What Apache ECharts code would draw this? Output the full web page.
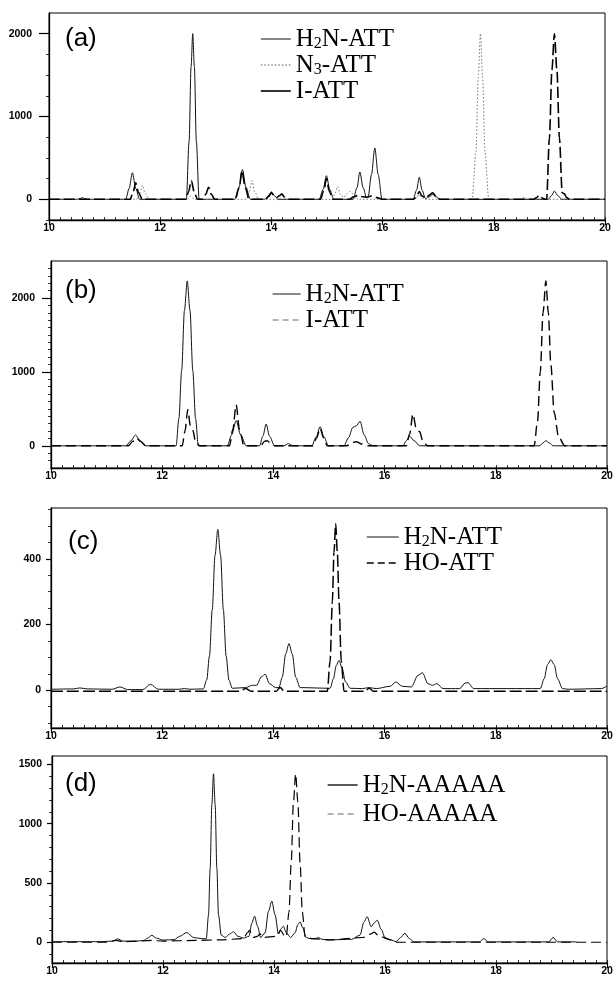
<!DOCTYPE html>
<html>
<head>
<meta charset="utf-8">
<title>HPLC traces</title>
<script src="https://cdn.jsdelivr.net/npm/echarts@6.0.0/dist/echarts.min.js"></script>
<style>
  html, body { margin: 0; padding: 0; background: #fff; }
  #chart { width: 616px; height: 985px; }
</style>
</head>
<body>
<div id="chart"></div>
<script>
// retention time ticks (min)
const xTickLabels = [10, 12, 14, 16, 18, 20]

const yTicksA = [0, 1000, 2000]
const yMinorA = [-250, 0, 250, 500, 750, 1000, 1250, 1500, 1750, 2000]
const yTicksB = [0, 1000, 2000]
const yMinorB = [-200, -100, 0, 100, 200, 300, 400, 500, 600, 700, 800, 900, 1000, 1100, 1200, 1300, 1400, 1500, 1600, 1700, 1800, 1900, 2000, 2100, 2200, 2300, 2400]
const yTicksC = [0, 200, 400]
const yMinorC = [-100, -50, 0, 50, 100, 150, 200, 250, 300, 350, 400, 450, 500, 550]
const yTicksD = [0, 500, 1000, 1500]
const yMinorD = [-100, 0, 100, 200, 300, 400, 500, 600, 700, 800, 900, 1000, 1100, 1200, 1300, 1400, 1500]

// (a)
const h2nA = [
  [10.0, 0], [10.5, 0], [10.56, 8], [10.6, 20], [10.64, 8], [10.7, 0],
  [11.38, 0], [11.44, 130], [11.5, 320], [11.56, 130], [11.63, 0],
  [12.47, 0], [12.52, 700], [12.555, 1600], [12.585, 2000], [12.615, 1600], [12.65, 700], [12.7, 0],
  [13.34, 0], [13.42, 150], [13.48, 360], [13.54, 150], [13.62, 0],
  [13.88, 0], [13.94, 40], [14.0, 90], [14.06, 40], [14.12, 0],
  [14.86, 0], [14.93, 120], [14.99, 285], [15.05, 120], [15.12, 0],
  [15.47, 0], [15.54, 140], [15.59, 330], [15.65, 140], [15.71, 20], [15.74, 30], [15.8, 300], [15.86, 620], [15.92, 300], [15.99, 0],
  [16.55, 0], [16.61, 110], [16.66, 265], [16.71, 110], [16.77, 10], [16.84, 30], [16.9, 60], [16.96, 30], [17.03, 0],
  [18.98, 0], [19.04, 45], [19.09, 100], [19.15, 45], [19.22, 0], [20.0, 0]
]
const n3A = [
  [10.0, 0], [11.58, 0], [11.63, 70], [11.68, 170], [11.73, 70], [11.8, 0],
  [12.49, 0], [12.52, 15], [12.55, 40], [12.58, 15], [12.62, 0],
  [13.55, 0], [13.6, 90], [13.65, 225], [13.7, 90], [13.77, 0],
  [14.12, 0], [14.16, 20], [14.19, 50], [14.22, 20], [14.27, 0],
  [15.09, 0], [15.14, 60], [15.19, 155], [15.24, 60], [15.3, 20], [15.35, 60], [15.41, 95], [15.48, 60], [15.56, 0],
  [16.58, 0], [16.62, 25], [16.66, 60], [16.7, 25], [16.75, 0],
  [17.61, 0], [17.68, 580], [17.72, 1470], [17.76, 2000], [17.8, 1470], [17.84, 580], [17.91, 0],
  [18.48, 0], [18.52, 12], [18.55, 30], [18.58, 12], [18.62, 0], [20.0, 0]
]
const iAttA = [
  [10.0, 0], [11.46, 0], [11.51, 80], [11.56, 200], [11.61, 80], [11.68, 0],
  [12.46, 0], [12.51, 90], [12.56, 226], [12.61, 90], [12.67, 0],
  [12.77, 0], [12.82, 60], [12.87, 145], [12.92, 60], [12.98, 0],
  [13.35, 0], [13.42, 140], [13.47, 345], [13.53, 140], [13.6, 0],
  [13.9, 0], [13.95, 35], [14.0, 80], [14.05, 40], [14.1, 25], [14.15, 45], [14.19, 65], [14.23, 30], [14.3, 0],
  [14.88, 0], [14.94, 100], [14.99, 250], [15.04, 100], [15.1, 0],
  [15.4, 0], [15.48, 30], [15.55, 45], [15.65, 30], [15.72, 25], [15.8, 40], [15.9, 20], [16.0, 0],
  [16.56, 0], [16.61, 40], [16.66, 95], [16.71, 40], [16.78, 15], [16.84, 50], [16.9, 80], [16.96, 35], [17.03, 0],
  [18.72, 0], [18.77, 20], [18.81, 45], [18.85, 20], [18.92, 0],
  [18.95, 0], [19.0, 740], [19.045, 1560], [19.09, 2000], [19.135, 1560], [19.18, 740], [19.23, 80], [19.27, 65], [19.31, 20], [19.36, 0], [20.0, 0]
]

// (b)
const h2nB = [
  [10.0, 0], [11.35, 0], [11.44, 70], [11.52, 148], [11.6, 70], [11.69, 0],
  [12.25, 0], [12.3, 370], [12.35, 1020], [12.4, 1830], [12.45, 2230], [12.5, 1830], [12.55, 1020], [12.6, 370], [12.65, 0],
  [13.17, 0], [13.25, 150], [13.33, 340], [13.41, 150], [13.51, 0],
  [13.75, 0], [13.81, 130], [13.87, 295], [13.93, 130], [14.02, 0],
  [14.19, 0], [14.27, 30], [14.35, 0],
  [14.69, 0], [14.77, 120], [14.84, 260], [14.91, 120], [14.99, 0],
  [15.27, 0], [15.35, 110], [15.43, 250], [15.49, 270], [15.56, 331], [15.63, 150], [15.71, 30], [15.79, 0],
  [16.33, 0], [16.39, 70], [16.45, 130], [16.53, 70], [16.63, 0],
  [18.79, 0], [18.85, 40], [18.9, 70], [18.96, 40], [19.03, 0], [20.0, 0]
]
const iAttB = [
  [10.0, 0], [11.39, 0], [11.47, 60], [11.54, 105], [11.61, 60], [11.71, 0],
  [12.36, 0], [12.41, 200], [12.46, 487], [12.51, 260], [12.55, 210], [12.6, 60], [12.67, 0],
  [13.21, 0], [13.27, 220], [13.33, 555], [13.39, 220], [13.47, 0],
  [13.77, 0], [13.84, 60], [13.89, 70], [13.95, 30], [14.03, 0],
  [14.71, 0], [14.78, 110], [14.84, 240], [14.9, 110], [14.97, 0],
  [15.32, 0], [15.42, 45], [15.49, 55], [15.59, 25], [15.72, 0],
  [16.39, 0], [16.45, 160], [16.51, 430], [16.57, 230], [16.63, 190], [16.69, 60], [16.77, 0],
  [18.69, 0], [18.75, 330], [18.8, 1000], [18.85, 1800], [18.9, 2230], [18.945, 1800], [18.99, 1100], [19.05, 450], [19.13, 120], [19.24, 0], [20.0, 0]
]

// (c)
const h2nC = [
  [10.0, 3], [10.4, 4], [10.52, 7], [10.65, 4], [11.1, 3], [11.24, 10], [11.38, 2], [11.65, 2], [11.79, 18], [11.93, 3],
  [12.3, 3], [12.4, 5], [12.5, 3],
  [12.74, 4], [12.8, 31], [12.85, 104], [12.9, 245], [12.95, 411], [13.0, 490], [13.05, 411], [13.1, 245], [13.15, 104], [13.2, 31], [13.26, 6],
  [13.5, 8], [13.62, 15], [13.7, 15], [13.78, 40], [13.85, 49], [13.93, 20], [14.04, 8],
  [14.1, 8], [14.16, 40], [14.22, 110], [14.28, 142], [14.34, 110], [14.4, 40], [14.48, 8],
  [15.02, 6], [15.08, 35], [15.13, 75], [15.18, 91], [15.23, 70], [15.3, 25], [15.38, 6],
  [15.6, 5], [15.72, 8], [15.85, 5], [16.1, 12], [16.2, 25], [16.32, 12], [16.48, 10], [16.6, 45], [16.68, 53], [16.78, 20],
  [16.86, 15], [16.94, 20], [17.05, 5], [17.35, 5], [17.45, 22], [17.5, 23], [17.6, 5],
  [18.8, 5], [18.87, 35], [18.93, 78], [18.99, 93], [19.05, 78], [19.11, 35], [19.2, 5], [19.3, 3], [19.9, 5], [20.0, 13]
]
const hoC = [
  [10.0, -3], [13.4, -3], [13.5, 5], [13.6, -3], [14.05, -3], [14.12, 8], [14.2, -3],
  [14.97, -3], [15.02, 90], [15.06, 270], [15.09, 420], [15.12, 508], [15.15, 420], [15.18, 270], [15.22, 90], [15.27, -3],
  [15.65, -3], [15.72, 6], [15.8, -3], [20.0, -3]
]

// (d)
const h2nD = [
  [10.0, 5], [10.9, 5], [11.1, 10], [11.18, 28], [11.28, 10], [11.5, 8], [11.65, 15], [11.72, 35], [11.8, 58], [11.88, 35],
  [12.0, 18], [12.2, 22], [12.3, 50], [12.43, 82], [12.55, 40], [12.7, 30],
  [12.78, 30], [12.82, 230], [12.85, 625], [12.88, 1160], [12.91, 1420], [12.94, 1160], [12.97, 625], [13.0, 230], [13.05, 60],
  [13.12, 40], [13.2, 70], [13.27, 88], [13.35, 50], [13.45, 35],
  [13.55, 50], [13.6, 160], [13.65, 220], [13.7, 140], [13.76, 40], [13.84, 80], [13.9, 260], [13.96, 347], [14.02, 230], [14.08, 70],
  [14.12, 110], [14.17, 135], [14.22, 80], [14.3, 40], [14.38, 80], [14.43, 150], [14.47, 172], [14.52, 120], [14.58, 40],
  [14.65, 30], [14.75, 30], [14.8, 40], [14.86, 25], [15.0, 20], [15.4, 25], [15.55, 60], [15.62, 170], [15.68, 215], [15.75, 130],
  [15.8, 160], [15.86, 186], [15.93, 110], [16.0, 40], [16.1, 20], [16.2, 5], [16.28, 40], [16.36, 75], [16.44, 30], [16.52, 3],
  [17.7, 3], [17.78, 30], [17.86, 3], [18.95, 3], [19.03, 40], [19.11, 3], [19.45, 3]
]
const hoD = [
  [10.0, 0], [11.0, 0], [11.15, 15], [11.3, 5], [11.8, 15], [12.0, 10], [12.6, 15], [13.0, 20], [13.45, 30], [13.52, 80],
  [13.56, 100], [13.62, 40], [13.7, 50], [13.75, 70], [13.8, 40], [14.05, 50], [14.12, 100], [14.18, 60],
  [14.22, 45], [14.27, 255], [14.31, 670], [14.35, 1180], [14.39, 1420], [14.43, 1180], [14.47, 670], [14.51, 255], [14.56, 45],
  [14.7, 30], [15.0, 20], [15.6, 40], [15.75, 70], [15.8, 85], [15.9, 50], [16.1, 20], [16.2, 0], [20.0, 0]
]

const thin = { color: '#111', width: 1 }

const panels = [
  {
    label: '(a)', labelPos: [65, 26],
    grid: { left: 49, top: 13, width: 556, height: 207 },
    yMin: -250, yMax: 2250, yTicks: yTicksA, yMinor: yMinorA, tickLen: 10, labelMargin: 17,
    legend: { left: 260, top: 27, itemWidth: 30, itemGap: 1 },
    series: [
      { name: 'H2N-ATT', data: h2nA, line: thin, icon: thin },
      { name: 'N3-ATT', data: n3A, line: { color: '#777', width: 1, type: [1.5, 2] }, icon: { color: '#555', width: 1, type: [1.5, 2] } },
      { name: 'I-ATT', data: iAttA, line: { color: '#000', width: 1.6, type: [11, 4] }, icon: { color: '#000', width: 1.6, type: 'solid' } }
    ]
  },
  {
    label: '(b)', labelPos: [65, 278],
    grid: { left: 51, top: 261, width: 556, height: 207 },
    yMin: -300, yMax: 2500, yTicks: yTicksB, yMinor: yMinorB, tickLen: 9, labelMargin: 16,
    legend: { left: 272, top: 282, itemWidth: 28, itemGap: 1 },
    series: [
      { name: 'H2N-ATT', data: h2nB, line: thin, icon: thin },
      { name: 'I-ATT', data: iAttB, line: { color: '#000', width: 1.4, type: [10, 5] }, icon: { color: '#666', width: 1.2, type: [6, 4] } }
    ]
  },
  {
    label: '(c)', labelPos: [68, 529],
    grid: { left: 51, top: 508, width: 556, height: 220 },
    yMin: -115, yMax: 555, yTicks: yTicksC, yMinor: yMinorC, tickLen: 5, labelMargin: 10,
    legend: { left: 366, top: 525, itemWidth: 32, itemGap: 1 },
    series: [
      { name: 'H2N-ATT', data: h2nC, line: thin, icon: thin },
      { name: 'HO-ATT', data: hoC, line: { color: '#000', width: 1.5, type: [12, 4] }, icon: { color: '#000', width: 1.5, type: [7, 4] } }
    ]
  },
  {
    label: '(d)', labelPos: [65, 771],
    grid: { left: 52, top: 756, width: 555, height: 207 },
    yMin: -175, yMax: 1570, yTicks: yTicksD, yMinor: yMinorD, tickLen: 5, labelMargin: 10,
    legend: { left: 327, top: 773, itemWidth: 30, itemGap: 4 },
    series: [
      { name: 'H2N-AAAAA', data: h2nD, line: thin, icon: { color: '#000', width: 1.3 } },
      { name: 'HO-AAAAA', data: hoD, line: { color: '#000', width: 1.2, type: [10, 5] }, icon: { color: '#666', width: 1.2, type: [6, 4] } }
    ]
  }
]

const tickFont = { color: '#000', fontSize: 10.5, fontWeight: 'bold', fontFamily: 'Liberation Sans, Arial, sans-serif' }
const hidden = { color: 'rgba(0,0,0,0)', borderColor: 'rgba(0,0,0,0)', borderWidth: 0, opacity: 0 }

function legendText(name) {
  const m = name.match(/^([A-Z]+)(\d)(.*)$/)
  if (m) return `{t|${m[1]}}{s|${m[2]}}{t|${m[3]}}`
  return `{t|${name}}`
}

const option = {
  animation: false,
  backgroundColor: '#fff',
  grid: [], xAxis: [], yAxis: [], series: [], legend: [], graphic: []
}

panels.forEach((p, i) => {
  option.grid.push({ ...p.grid, show: true, borderColor: '#000', borderWidth: 1, outerBoundsMode: 'none', containLabel: false })
  option.xAxis.push({
    type: 'value', gridIndex: i, min: 10, max: 20, position: 'bottom',
    axisLine: { show: true, onZero: false, lineStyle: { color: '#000', width: 1.3 } },
    axisTick: { show: true, length: 5, customValues: xTickLabels, lineStyle: { color: '#000', width: 1.2 } },
    axisLabel: { ...tickFont, customValues: xTickLabels, margin: 3, formatter: v => String(v) },
    splitLine: { show: false }
  })
  option.xAxis.push({
    type: 'value', gridIndex: i, min: 10, max: 20, interval: 0.2, position: 'bottom',
    axisLine: { show: false, onZero: false },
    axisTick: { show: true, inside: true, length: 3, lineStyle: { color: '#000', width: 0.8 } },
    axisLabel: { show: false },
    splitLine: { show: false }
  })
  option.yAxis.push({
    type: 'value', gridIndex: i, min: p.yMin, max: p.yMax, position: 'left',
    axisLine: { show: true, onZero: false, lineStyle: { color: '#000', width: 1.3 } },
    axisTick: { show: true, length: p.tickLen, customValues: p.yTicks, lineStyle: { color: '#000', width: 1.2 } },
    axisLabel: { ...tickFont, customValues: p.yTicks, margin: p.labelMargin, formatter: v => String(v) },
    splitLine: { show: false }
  })
  option.yAxis.push({
    type: 'value', gridIndex: i, min: p.yMin, max: p.yMax, position: 'left',
    axisLine: { show: false, onZero: false },
    axisTick: { show: true, length: 3, customValues: p.yMinor, lineStyle: { color: '#000', width: 0.8 } },
    axisLabel: { show: false },
    splitLine: { show: false }
  })
  p.series.forEach(s => {
    option.series.push({
      name: s.name, type: 'line', xAxisIndex: i * 2, yAxisIndex: i * 2,
      data: s.data, symbol: 'none', smooth: 0.3, smoothMonotone: 'x',
      lineStyle: s.line, itemStyle: { color: s.line.color }, silent: true
    })
  })
  option.legend.push({
    orient: 'vertical', left: p.legend.left, top: p.legend.top, padding: 0,
    itemWidth: p.legend.itemWidth, itemHeight: 12, itemGap: p.legend.itemGap, selectedMode: false,
    data: p.series.map(s => ({ name: s.name, lineStyle: s.icon, itemStyle: hidden })),
    formatter: legendText,
    textStyle: {
      rich: {
        t: { fontFamily: 'Liberation Serif, Times New Roman, serif', fontSize: 25, lineHeight: 26, color: '#000', verticalAlign: 'bottom' },
        s: { fontFamily: 'Liberation Serif, Times New Roman, serif', fontSize: 16, lineHeight: 10, color: '#000', verticalAlign: 'bottom' }
      }
    }
  })
  option.graphic.push({
    type: 'text', left: p.labelPos[0], top: p.labelPos[1],
    style: { text: p.label, font: '26px "Liberation Sans", Arial, sans-serif', fill: '#000' }
  })
})

const myChart = echarts.init(document.getElementById('chart'), null, { renderer: 'canvas' })
myChart.setOption(option)
</script>
</body>
</html>
